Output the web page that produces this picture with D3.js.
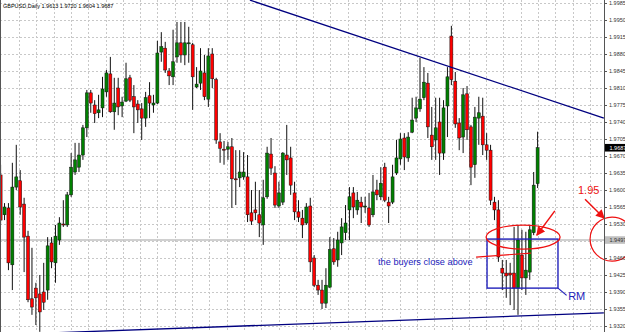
<!DOCTYPE html>
<html>
<head>
<meta charset="utf-8">
<script src="https://cdn.jsdelivr.net/npm/d3@7"></script>
<style>
  body { margin: 0; background: #fff; }
  svg { display: block; font-family: "Liberation Sans", Arial, sans-serif; }
</style>
</head>
<body>
<svg></svg>
<script>
// GBPUSD daily candles, oldest first
const opens = [1.9631,1.9549,1.9563,1.9446,1.9606,1.9619,1.9571,1.9505,1.9376,1.9398,1.9386,1.9390,1.9394,1.9491,1.9450,1.9497,1.9530,1.9528,1.9590,1.9637,
  1.9647,1.9672,1.9728,1.9800,1.9775,1.9759,1.9769,1.9802,1.9839,1.9761,1.9810,1.9773,1.9783,1.9831,1.9792,1.9777,1.9767,1.9748,1.9794,1.9775,
  1.9779,1.9884,1.9892,1.9845,1.9833,1.9874,1.9903,1.9878,1.9901,1.9899,1.9812,1.9820,1.9841,1.9787,1.9880,1.9827,1.9699,1.9684,1.9684,1.9689,
  1.9623,1.9625,1.9627,1.9627,1.9553,1.9559,1.9549,1.9528,1.9586,1.9674,1.9635,1.9567,1.9575,1.9672,1.9666,1.9594,1.9555,1.9542,1.9532,1.9567,
  1.9460,1.9404,1.9394,1.9367,1.9400,1.9479,1.9456,1.9491,1.9512,1.9559,1.9594,1.9559,1.9575,1.9565,1.9563,1.9549,1.9600,1.9586,1.9647,1.9575,
  1.9575,1.9635,1.9664,1.9707,1.9666,1.9719,1.9748,1.9767,1.9790,1.9820,1.9713,1.9703,1.9740,1.9676,1.9773,1.9917,1.9824,1.9738,1.9709,1.9798,
  1.9730,1.9652,1.9748,1.9752,1.9693,1.9682,1.9575,1.9559,1.9439,1.9429,1.9429,1.9429,1.9398,1.9466,1.9419,1.9431,1.9512,1.9613];
const highs = [1.9652,1.9573,1.9573,1.9656,1.9693,1.9641,1.9584,1.9516,1.9481,1.9409,1.9425,1.9450,1.9503,1.9503,1.9528,1.9544,1.9579,1.9596,1.9676,1.9697,
  1.9697,1.9734,1.9806,1.9806,1.9785,1.9796,1.9833,1.9847,1.9874,1.9831,1.9831,1.9792,1.9862,1.9837,1.9816,1.9785,1.9779,1.9802,1.9822,1.9796,
  1.9907,1.9925,1.9905,1.9851,1.9930,1.9946,1.9946,1.9946,1.9936,1.9903,1.9853,1.9892,1.9878,1.9892,1.9892,1.9831,1.9717,1.9701,1.9699,1.9707,
  1.9682,1.9682,1.9678,1.9672,1.9600,1.9617,1.9600,1.9621,1.9689,1.9707,1.9649,1.9617,1.9678,1.9734,1.9689,1.9617,1.9579,1.9559,1.9573,1.9584,
  1.9466,1.9415,1.9415,1.9439,1.9503,1.9501,1.9514,1.9542,1.9569,1.9606,1.9606,1.9596,1.9586,1.9586,1.9594,1.9631,1.9621,1.9647,1.9656,1.9586,
  1.9652,1.9703,1.9717,1.9717,1.9719,1.9790,1.9792,1.9872,1.9853,1.9841,1.9771,1.9790,1.9790,1.9785,1.9853,1.9938,1.9843,1.9748,1.9810,1.9814,
  1.9734,1.9771,1.9792,1.9790,1.9717,1.9693,1.9586,1.9579,1.9456,1.9456,1.9450,1.9524,1.9528,1.9518,1.9514,1.9528,1.9637,1.9720];
const lows = [1.9528,1.9538,1.9435,1.9394,1.9600,1.9549,1.9431,1.9369,1.9343,1.9322,1.9308,1.9353,1.9374,1.9439,1.9409,1.9487,1.9524,1.9524,1.9586,1.9631,
  1.9637,1.9662,1.9709,1.9759,1.9738,1.9748,1.9750,1.9792,1.9759,1.9724,1.9754,1.9750,1.9781,1.9781,1.9717,1.9738,1.9703,1.9730,1.9748,1.9759,
  1.9777,1.9864,1.9841,1.9816,1.9816,1.9862,1.9862,1.9857,1.9862,1.9765,1.9810,1.9806,1.9785,1.9771,1.9810,1.9695,1.9656,1.9652,1.9662,1.9563,
  1.9569,1.9606,1.9621,1.9534,1.9528,1.9538,1.9503,1.9487,1.9582,1.9631,1.9563,1.9563,1.9569,1.9631,1.9590,1.9538,1.9534,1.9501,1.9528,1.9431,
  1.9400,1.9384,1.9355,1.9357,1.9398,1.9446,1.9442,1.9466,1.9497,1.9497,1.9542,1.9549,1.9532,1.9553,1.9524,1.9544,1.9579,1.9579,1.9575,1.9532,
  1.9571,1.9631,1.9652,1.9641,1.9658,1.9717,1.9740,1.9761,1.9785,1.9707,1.9662,1.9662,1.9631,1.9662,1.9709,1.9816,1.9728,1.9682,1.9676,1.9703,
  1.9610,1.9625,1.9693,1.9672,1.9662,1.9569,1.9538,1.9452,1.9394,1.9378,1.9363,1.9353,1.9343,1.9394,1.9384,1.9415,1.9507,1.9604];
const closes = [1.9538,1.9565,1.9450,1.9606,1.9627,1.9565,1.9503,1.9374,1.9359,1.9378,1.9349,1.9369,1.9485,1.9452,1.9505,1.9532,1.9529,1.9590,1.9647,1.9662,
  1.9672,1.9728,1.9800,1.9779,1.9757,1.9765,1.9808,1.9841,1.9761,1.9779,1.9771,1.9781,1.9829,1.9785,1.9771,1.9765,1.9748,1.9790,1.9779,1.9779,
  1.9882,1.9895,1.9847,1.9835,1.9864,1.9903,1.9878,1.9903,1.9903,1.9833,1.9818,1.9845,1.9792,1.9876,1.9829,1.9703,1.9686,1.9682,1.9689,1.9623,
  1.9621,1.9637,1.9637,1.9549,1.9536,1.9553,1.9532,1.9584,1.9676,1.9645,1.9569,1.9594,1.9676,1.9662,1.9610,1.9555,1.9544,1.9528,1.9565,1.9452,
  1.9404,1.9394,1.9367,1.9404,1.9477,1.9452,1.9497,1.9524,1.9532,1.9586,1.9565,1.9579,1.9565,1.9567,1.9528,1.9596,1.9590,1.9614,1.9579,1.9567,
  1.9627,1.9666,1.9705,1.9668,1.9709,1.9744,1.9769,1.9787,1.9822,1.9730,1.9689,1.9728,1.9676,1.9769,1.9833,1.9827,1.9736,1.9707,1.9796,1.9724,
  1.9647,1.9750,1.9759,1.9693,1.9682,1.9579,1.9559,1.9462,1.9429,1.9423,1.9425,1.9398,1.9497,1.9419,1.9435,1.9518,1.9610,1.9687];

const priceTicks = [1.9985,1.9950,1.9915,1.9880,1.9845,1.9810,1.9775,1.9740,1.9705,1.9670,1.9635,1.9600,
  1.9565,1.9530,1.9495,1.9460,1.9425,1.9390,1.9355,1.9320];
const titleText = "GBPUSD,Daily  1.9613 1.9720 1.9604 1.9687";
const lastPrice = 1.9687;
const levelPrice = 1.9497;

// trend lines as [barIndex, price] pairs
const resistance = [[63.6, 1.9991], [153.9, 1.9748]];
const support = [[0, 1.9302], [153.9, 1.9347]];

const width = 625;
const height = 332;
const plotRight = 604;

const svg = d3.select("svg").attr("width", width).attr("height", height);

const x = d3.scaleLinear().domain([0, 137]).range([0.6, 537.6]);
const y = d3.scaleLinear().domain([1.9320, 1.9985]).range([326, 3]);

svg.append("rect").attr("width", width).attr("height", height).attr("fill", "#fff");

// grid
const grid = svg.append("g").attr("stroke", "#c8c8c8").attr("stroke-dasharray", "2,2").attr("stroke-width", 1);
grid.selectAll("line.h").data(priceTicks).enter().append("line")
  .attr("x1", 0).attr("x2", plotRight)
  .attr("y1", (p) => Math.round(y(p)) + 0.5).attr("y2", (p) => Math.round(y(p)) + 0.5);
grid.selectAll("line.v").data(d3.range(19, plotRight, 17.3)).enter().append("line")
  .attr("x1", (v) => Math.round(v) + 0.5).attr("x2", (v) => Math.round(v) + 0.5)
  .attr("y1", 0).attr("y2", height);

// horizontal level line
svg.append("line")
  .attr("x1", 0).attr("x2", plotRight)
  .attr("y1", y(levelPrice)).attr("y2", y(levelPrice))
  .attr("stroke", "#c0c0c0").attr("stroke-width", 1.5);

// candles
const candles = opens.map((o, i) => ({ i, o, h: highs[i], l: lows[i], c: closes[i] }));
const g = svg.append("g");
g.selectAll("line.wick").data(candles).enter().append("line")
  .attr("x1", (d) => x(d.i)).attr("x2", (d) => x(d.i))
  .attr("y1", (d) => y(d.h)).attr("y2", (d) => y(d.l))
  .attr("stroke", "#111").attr("stroke-width", 1);
g.selectAll("rect.body").data(candles).enter().append("rect")
  .attr("x", (d) => x(d.i) - 1.5)
  .attr("width", 3)
  .attr("y", (d) => y(Math.max(d.o, d.c)))
  .attr("height", (d) => Math.max(1, Math.abs(y(d.o) - y(d.c))))
  .attr("fill", (d) => (d.c >= d.o ? "#008000" : "#ff0000"))
  .attr("stroke", "#111").attr("stroke-width", 0.5);

// trend lines
const tl = d3.line().x((d) => x(d[0])).y((d) => y(d[1]));
svg.append("path").attr("d", tl(resistance)).attr("stroke", "#000080").attr("stroke-width", 1.3).attr("fill", "none");
svg.append("path").attr("d", tl(support)).attr("stroke", "#000080").attr("stroke-width", 1.3).attr("fill", "none");

// annotations
const red = "#ee1111";
const blue = "#2222bb";
svg.append("defs").append("marker")
  .attr("id", "arrow").attr("viewBox", "0 0 10 10").attr("refX", 9).attr("refY", 5)
  .attr("markerWidth", 6).attr("markerHeight", 6).attr("orient", "auto")
  .append("path").attr("d", "M0,0 L10,5 L0,10 z").attr("fill", red);

svg.append("rect")
  .attr("x", x(124.1)).attr("y", y(1.9499))
  .attr("width", x(142.2) - x(124.1)).attr("height", y(1.9398) - y(1.9499))
  .attr("fill", "none").attr("stroke", blue).attr("stroke-width", 1.4);
svg.append("line")
  .attr("x1", x(142.2)).attr("y1", y(1.9398)).attr("x2", x(144.4)).attr("y2", y(1.9383))
  .attr("stroke", blue).attr("stroke-width", 1.2);
svg.append("text").attr("x", x(144.8)).attr("y", y(1.9374)).attr("font-size", 11).attr("fill", blue).text("RM");

svg.append("ellipse")
  .attr("cx", x(133.3)).attr("cy", y(1.9503)).attr("rx", 37).attr("ry", 12)
  .attr("fill", "none").attr("stroke", red).attr("stroke-width", 1.3);
svg.append("line")
  .attr("x1", x(141.4)).attr("y1", y(1.9557)).attr("x2", x(136.8)).attr("y2", y(1.9507))
  .attr("stroke", red).attr("stroke-width", 1.5).attr("marker-end", "url(#arrow)");

svg.append("text").attr("x", x(96.3)).attr("y", y(1.9446)).attr("font-size", 9.2).attr("fill", blue)
  .text("the buyers close above");
svg.append("line")
  .attr("x1", x(121.3)).attr("y1", y(1.9462)).attr("x2", x(135.3)).attr("y2", y(1.9470))
  .attr("stroke", red).attr("stroke-width", 1.2);

svg.append("text").attr("x", x(147.3)).attr("y", y(1.9591)).attr("font-size", 11).attr("fill", red).text("1.95");
svg.append("line")
  .attr("x1", x(149.1)).attr("y1", y(1.9581)).attr("x2", x(154.0)).attr("y2", y(1.9542))
  .attr("stroke", red).attr("stroke-width", 1.5).attr("marker-end", "url(#arrow)");
svg.append("ellipse")
  .attr("cx", x(156)).attr("cy", y(1.9499)).attr("rx", 22).attr("ry", 22)
  .attr("fill", "none").attr("stroke", red).attr("stroke-width", 1.2);

// price axis
svg.append("rect").attr("x", plotRight + 1).attr("y", 0).attr("width", width - plotRight).attr("height", height).attr("fill", "#fff").attr("opacity", 0);
svg.append("line").attr("x1", plotRight + 0.5).attr("x2", plotRight + 0.5).attr("y1", 0).attr("y2", height)
  .attr("stroke", "#555").attr("stroke-width", 1);
svg.append("line").attr("x1", 0.5).attr("x2", 0.5).attr("y1", 0).attr("y2", height)
  .attr("stroke", "#555").attr("stroke-width", 1);

const axis = d3.axisRight(y).tickValues(priceTicks).tickSize(3).tickFormat(d3.format(".4f"));
const ag = svg.append("g").attr("transform", `translate(${plotRight},0)`).call(axis);
ag.select(".domain").remove();
ag.selectAll("line").attr("stroke", "#555");
ag.selectAll("text").attr("font-size", 5.5).attr("fill", "#333").attr("x", 5)
  .attr("font-family", "Liberation Sans, Arial, sans-serif");

// level + last price tags
const tag = (p, bg, fg) => {
  const t = svg.append("g").attr("transform", `translate(${plotRight + 1},${y(p)})`);
  t.append("rect").attr("x", 0).attr("y", -3.8).attr("width", 20).attr("height", 7.6).attr("fill", bg);
  t.append("text").attr("x", 4.5).attr("y", 2).attr("font-size", 5.5).attr("fill", fg).text(d3.format(".4f")(p));
};
tag(levelPrice, "#c0c0c0", "#333");
tag(lastPrice, "#000", "#fff");

svg.append("text").attr("x", 3).attr("y", 8).attr("font-size", 5.5).attr("fill", "#000").text(titleText);
</script>
</body>
</html>
